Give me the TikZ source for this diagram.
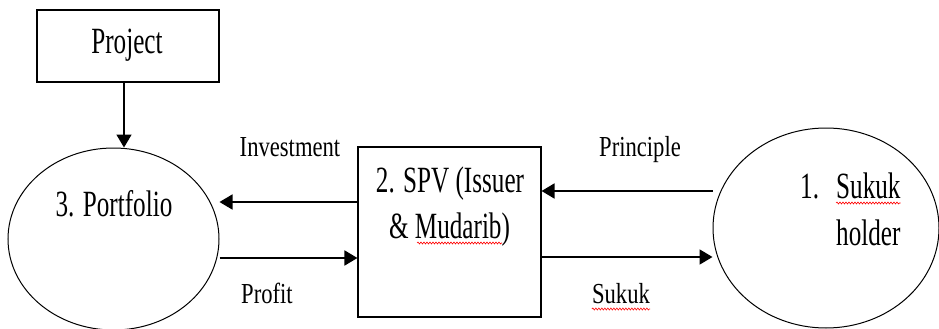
\documentclass[tikz,border=0pt]{standalone}
\usepackage{fontspec}
\setmainfont{Liberation Serif}
\newfontfamily\bigfont[FakeStretch=0.68]{Liberation Serif}
\newfontfamily\lblfont[FakeStretch=0.78]{Liberation Serif}
\usetikzlibrary{arrows.meta,decorations.pathmorphing,shapes.geometric,calc}
\begin{document}
\begin{tikzpicture}[x=1pt,y=-1pt,
  box/.style={draw,line width=1.1pt,inner sep=0pt,rectangle},
  oval/.style={draw,ellipse,line width=1pt,inner sep=0pt},
  flow/.style={line width=1.8pt,-{Triangle[length=13pt,width=15pt]}},
  big/.style={font=\bigfont\fontsize{37}{44}\selectfont,inner sep=0pt},
  lbl/.style={font=\lblfont\fontsize{29}{35}\selectfont,inner sep=0pt,anchor=base},
  wavy/.style={draw=red,line width=0.6pt,decorate,decoration={snake,amplitude=1pt,segment length=3pt}}
]
\useasboundingbox (0,0) rectangle (939,329);
% shapes
\node[box,minimum width=182pt,minimum height=72pt] (project) at (128,46) {};
\node[oval,minimum width=211pt,minimum height=182pt] (portfolio) at (113.5,239) {};
\node[box,minimum width=183pt,minimum height=170pt] (spv) at (449.5,232) {};
\node[oval,minimum width=226pt,minimum height=200pt] (holder) at (826,228) {};
% texts
\node[big,anchor=base] (projtxt) at (127,53) {Project};
\node[big,anchor=base] (porttxt) at (114,216) {3. Portfolio};
\node[big,anchor=base] (spvtxta) at (450,192) {2. SPV (Issuer};
\node[big,anchor=base] (spvtxtb) at (449.5,238) {\& Mudarib)};
\node[big,anchor=base west] (hnum) at (800,198) {1.};
\node[big,anchor=base west] (htxta) at (836,198) {Sukuk};
\node[big,anchor=base west] (htxtb) at (836,245) {holder};
% labels
\node[lbl] (invlbl) at (290,156) {Investment};
\node[lbl] (proflbl) at (267,303) {Profit};
\node[lbl] (prinlbl) at (640,156) {Principle};
\node[lbl] (suklbl) at (621,303) {Sukuk};
% connectors
\coordinate (xproj) at (124,0);
\coordinate (yinv) at (0,202);
\coordinate (yprof) at (0,258);
\coordinate (yprin) at (0,191);
\coordinate (ysuk) at (0,257);
\draw[flow] (project.south -| xproj) -- (portfolio.north -| xproj);
\draw[flow] (spv.west |- yinv) -- (portfolio.east |- yinv);
\draw[flow] (portfolio.east |- yprof) -- (spv.west |- yprof);
\draw[flow] (holder.west |- yprin) -- (spv.east |- yprin);
\draw[flow] (spv.east |- ysuk) -- (holder.west |- ysuk);
% spell-check underlines
\draw[wavy] ([yshift=-6pt]suklbl.base west) -- ([yshift=-6pt]suklbl.base east);
\draw[wavy] ([yshift=-5pt]htxta.base west) -- ([yshift=-5pt]htxta.base east);
\draw[wavy] (417,243) -- (502,243);
\end{tikzpicture}
\end{document}
